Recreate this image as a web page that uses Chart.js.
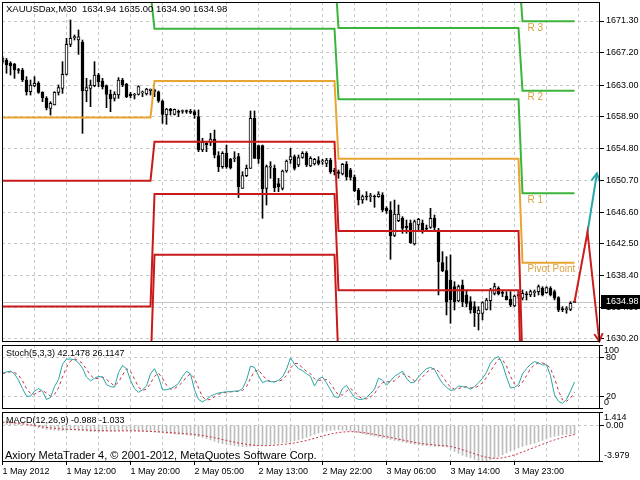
<!DOCTYPE html>
<html><head><meta charset="utf-8">
<script src="https://cdn.jsdelivr.net/npm/chart.js@4.4.1/dist/chart.umd.min.js"></script>
<style>
html,body{margin:0;padding:0;background:#fff;width:640px;height:480px;overflow:hidden}
.c{position:absolute;left:0;width:640px}
#w1{top:0;height:343px}
#w2{top:344px;height:67px}
#w3{top:411px;height:69px}
</style></head><body>
<div class="c" id="w1"><canvas id="main"></canvas></div>
<div class="c" id="w2"><canvas id="stoch"></canvas></div>
<div class="c" id="w3"><canvas id="macd"></canvas></div>
<script>
// ---------------- DATA ----------------
const chartTitle = 'XAUUSDax,M30  1634.94 1635.00 1634.90 1634.98';
const stochTitle = 'Stoch(5,3,3) 42.1478 26.1147';
const macdTitle = 'MACD(12,26,9) -0.988 -1.033';
const copyright = 'Axiory MetaTrader 4, \u00A9 2001-2012, MetaQuotes Software Corp.';

const opens = [
1666.0,1666.26,1665.83,1665.70,1664.97,1664.97,1663.67,1662.16,1662.90,1663.24,
1662.08,1661.30,1660.01,1660.44,1662.08,1662.60,1664.41,1668.28,1669.1,1668.84,
1668.54,1662.25,1662.60,1662.94,1664.32,1663.55,1662.94,1661.82,1661.30,1661.73,
1663.67,1663.11,1661.86,1661.7,1661.82,1662.0,1661.86,1662.3,1662.4,1662.16,
1660.96,1659.15,1659.9,1659.24,1659.6,1659.6,1659.65,1659.6,1659.6,1658.94,
1654.63,1655.5,1655.62,1656.05,1653.90,1652.47,1654.20,1653.46,1653.5,1653.77,
1649.67,1651.31,1652.26,1658.72,1655.19,1655.19,1649.67,1652.4,1652.26,1650.3,
1649.67,1651.91,1653.34,1653.77,1652.69,1653.68,1654.20,1652.56,1652.82,1653.25,
1653.1,1652.90,1653.33,1652.0,1651.8,1651.52,1652.77,1652.04,1651.09,1649.46,
1648.16,1648.6,1648.6,1648.65,1648.59,1648.81,1647.09,1646.87,1643.60,1645.49,
1645.80,1644.8,1645.15,1642.48,1644.93,1645.15,1644.5,1644.63,1645.80,1644.29,
1640.07,1639.03,1637.82,1636.96,1635.11,1637.18,1635.89,1635.03,1634.38,1633.43,
1633.52,1634.03,1635.15,1636.10,1636.75,1636.2,1635.76,1635.33,1634.46,1635.8,
1635.46,1636.0,1635.89,1636.2,1636.32,1636.75,1636.19,1636.75,1636.32,1635.54,
1634.1,1634.0,1634.03,1634.94];
const highs = [
1666.7,1666.47,1666.04,1665.83,1665.18,1665.18,1664.11,1663.67,1664.11,1663.46,
1662.16,1661.52,1660.87,1662.16,1663.03,1666.04,1669.06,1671.43,1669.49,1670.14,
1668.84,1663.89,1663.67,1666.04,1664.54,1663.89,1663.03,1662.38,1662.16,1663.98,
1663.89,1663.24,1662.08,1661.95,1662.94,1662.25,1662.60,1662.51,1662.5,1662.25,
1661.09,1660.01,1660.01,1659.93,1659.8,1659.8,1659.8,1659.88,1659.8,1659.8,
1656.14,1655.70,1656.78,1657.21,1654.41,1654.41,1655.27,1653.55,1654.41,1654.20,
1651.83,1652.69,1659.67,1659.67,1655.27,1655.27,1652.69,1653.12,1652.69,1650.97,
1652.04,1653.34,1654.84,1653.98,1653.98,1654.41,1654.41,1653.76,1653.55,1653.76,
1653.42,1653.55,1653.55,1652.26,1652.04,1652.90,1653.12,1652.26,1651.40,1649.67,
1648.81,1649.24,1649.03,1648.81,1649.24,1649.11,1647.30,1647.95,1648.16,1647.52,
1646.01,1645.58,1645.58,1645.58,1645.80,1645.58,1644.93,1647.09,1646.22,1644.50,
1641.49,1640.84,1641.06,1637.61,1637.18,1637.82,1636.53,1635.67,1635.03,1634.38,
1635.03,1635.46,1636.75,1637.40,1636.96,1636.53,1636.32,1636.32,1635.89,1636.3,
1636.53,1636.32,1636.53,1636.53,1637.18,1636.96,1636.96,1636.96,1636.53,1635.67,
1634.38,1634.38,1635.03,1635.00];
const lows = [
1665.8,1664.54,1664.32,1663.89,1664.54,1663.46,1661.73,1661.73,1662.81,1661.95,
1660.87,1659.80,1659.15,1660.44,1661.73,1661.95,1664.32,1667.98,1668.84,1666.99,
1656.78,1660.87,1660.23,1662.8,1662.81,1662.51,1660.10,1659.58,1660.96,1661.30,
1662.81,1661.39,1661.39,1661.22,1661.73,1661.52,1661.73,1661.73,1661.52,1660.79,
1658.07,1657.94,1659.15,1659.15,1658.94,1659.37,1659.37,1659.32,1658.72,1654.41,
1654.41,1654.41,1655.19,1653.6,1651.83,1652.26,1652.26,1652.17,1653.12,1648.47,
1649.67,1651.18,1652.26,1653.55,1652.90,1645.80,1647.52,1650.97,1649.24,1649.24,
1649.46,1651.74,1652.9,1652.04,1652.47,1653.55,1652.47,1652.47,1652.69,1652.69,
1652.77,1652.47,1651.61,1651.40,1650.97,1651.40,1650.75,1650.75,1649.24,1647.52,
1647.73,1648.16,1647.95,1647.22,1648.51,1646.66,1646.44,1640.50,1643.43,1645.36,
1643.86,1643.86,1642.56,1642.35,1644.07,1643.86,1644.07,1644.50,1644.29,1635.89,
1638.90,1633.30,1632.23,1633.95,1635.03,1634.38,1634.38,1633.52,1631.80,1631.36,
1632.66,1633.95,1633.95,1635.89,1635.89,1635.67,1635.24,1634.38,1634.38,1635.5,
1635.24,1635.24,1635.67,1635.67,1635.89,1635.76,1636.10,1635.76,1635.24,1633.73,
1633.73,1633.52,1633.86,1634.90];
const closes = [
1666.5,1665.61,1665.53,1664.97,1664.9,1663.67,1662.16,1663.03,1663.24,1662.08,
1661.39,1660.10,1660.66,1662.08,1662.68,1664.41,1668.28,1669.06,1669.3,1669.27,
1662.25,1662.68,1663.03,1664.32,1663.46,1662.81,1661.82,1661.22,1661.86,1663.67,
1663.03,1661.52,1661.65,1661.8,1662.81,1662.1,1662.51,1662.5,1662.2,1660.96,
1659.24,1659.93,1659.7,1659.88,1659.5,1659.65,1659.6,1659.5,1659.2,1654.63,
1655.62,1655.3,1656.05,1653.98,1652.47,1654.20,1652.47,1652.34,1653.6,1649.89,
1651.31,1652.26,1658.72,1653.55,1653.46,1649.59,1652.47,1652.5,1649.76,1649.9,
1651.91,1653.21,1653.77,1652.26,1653.64,1654.20,1652.69,1653.55,1653.42,1652.9,
1653.2,1653.33,1651.83,1651.8,1651.6,1652.77,1651.18,1651.09,1649.37,1648.16,
1648.59,1648.55,1648.7,1648.55,1648.94,1646.87,1646.79,1643.51,1646.36,1646.36,
1644.50,1644.6,1642.65,1645.36,1645.67,1644.29,1644.4,1645.80,1644.63,1640.20,
1639.03,1635.03,1635.24,1635.03,1636.96,1635.03,1634.81,1633.95,1633.60,1633.95,
1634.90,1635.24,1636.53,1636.96,1636.02,1636.1,1635.24,1634.59,1635.76,1636.0,
1636.10,1635.9,1636.32,1636.25,1636.96,1635.89,1636.84,1635.89,1635.46,1633.95,
1634.0,1634.05,1634.81,1634.98];

// daily pivot levels (one value per day), day start bar indices
const dayStarts = [0, 38, 84, 130];
const levelR3 = [1699.4, 1684.9, 1678.2, 1671.27];
const levelR2 = [1683.2, 1678.15, 1670.4, 1662.3];
const levelR1 = [1675.05, 1670.3, 1661.18, 1649.03];
const levelP  = [1658.83, 1663.55, 1653.5, 1640.06];
const levelS1 = [1650.66, 1655.7, 1644.16, 1626.8];
const levelS2 = [1634.4, 1648.95, 1636.5, 1617.8];
const levelS3 = [1626.27, 1641.1, 1627.1, 1604.6];
const levelNames = ['R 3', 'R 2', 'R 1', 'Pivot Point'];

// projected path on the right
const projDown = [{x:143, y:1634.98}, {x:146.25, y:1644.0}, {x:149.2, y:1629.9}];
const projUp = [{x:146.1, y:1643.5}, {x:148.6, y:1651.6}];

const priceTicks = [1671.30, 1667.20, 1663.00, 1658.90, 1654.80, 1650.70, 1646.60, 1642.50, 1638.40, 1634.30, 1630.20];
const timeLabels = ['1 May 2012', '1 May 12:00', '1 May 20:00', '2 May 05:00', '2 May 13:00', '2 May 22:00', '3 May 06:00', '3 May 14:00', '3 May 23:00'];

const stochK = [
56,58,59,55,45,32,20,20,28,32,
28,15,18,35,46,70,78,78,77,72,
64,50,44,48,51,50,38,35,34,57,
68,63,45,32,26,30,36,55,63,50,
30,30,32,35,40,51,59,55,30,15,
11,15,20,23,25,26,27,27,28,28,
32,45,67,65,52,41,44,43,42,45,
50,62,80,70,63,60,55,51,36,47,
50,41,30,19,18,32,37,27,18,15,
15,18,24,31,48,45,37,44,51,55,
59,48,41,42,50,57,63,65,62,50,
40,34,29,30,36,35,34,31,35,41,
48,57,72,79,82,70,50,33,34,38,
55,63,70,74,72,69,69,52,22,12,
9,15,28,42.1478];
const stochD = [
55,57,58,57,53,44,32,24,23,27,
29,25,20,23,33,50,65,75,78,76,
71,62,53,47,48,50,46,41,36,42,
53,63,59,47,34,29,31,40,51,56,
48,37,31,32,36,42,50,55,48,33,
19,14,15,19,23,25,26,27,27,28,
29,35,48,59,61,53,46,43,43,43,
46,52,64,71,71,64,59,55,47,45,
45,46,40,30,22,22,28,32,27,20,
16,16,19,24,34,41,43,42,44,50,
55,53,49,44,44,50,57,62,63,59,
51,42,34,31,32,34,35,33,33,36,
41,49,59,69,78,77,67,51,39,35,
42,52,63,69,72,72,70,63,48,29,
14,12,17,26.1147];
const stochLevels = [80, 20];
const stochEdge = ['100', '0'];

const macdMain = [
0.5,0.45,0.4,0.3,0.2,0.1,0,-0.1,-0.2,-0.3,
-0.38,-0.45,-0.5,-0.55,-0.6,-0.6,-0.55,-0.5,-0.5,-0.55,
-0.6,-0.65,-0.7,-0.7,-0.7,-0.68,-0.66,-0.65,-0.63,-0.6,
-0.58,-0.58,-0.6,-0.62,-0.65,-0.68,-0.7,-0.72,-0.75,-0.8,
-0.85,-0.9,-0.92,-0.95,-1.0,-1.02,-1.05,-1.1,-1.15,-1.25,
-1.35,-1.45,-1.6,-1.75,-1.9,-2.0,-2.1,-2.15,-2.2,-2.28,
-2.32,-2.35,-2.3,-2.25,-2.2,-2.15,-2.12,-2.08,-2.02,-1.97,
-1.93,-1.88,-1.8,-1.7,-1.6,-1.45,-1.3,-1.15,-1.0,-0.85,
-0.7,-0.65,-0.58,-0.53,-0.52,-0.55,-0.58,-0.6,-0.7,-0.8,
-0.92,-1.02,-1.1,-1.2,-1.3,-1.38,-1.45,-1.55,-1.65,-1.72,
-1.8,-1.9,-2.0,-2.08,-2.15,-2.2,-2.22,-2.25,-2.28,-2.3,
-2.32,-2.35,-2.6,-2.85,-3.05,-3.25,-3.4,-3.55,-3.7,-3.85,
-3.979,-3.9,-3.75,-3.55,-3.4,-3.2,-3.0,-2.8,-2.6,-2.45,
-2.3,-2.15,-2.05,-1.95,-1.8,-1.65,-1.5,-1.3,-1.2,-1.12,
-1.05,-1.0,-0.98,-0.988];
const macdSignal = [
0.3,0.3,0.28,0.25,0.2,0.15,0.1,0.04,-0.03,-0.1,
-0.18,-0.25,-0.3,-0.34,-0.38,-0.42,-0.45,-0.47,-0.49,-0.5,
-0.52,-0.53,-0.55,-0.57,-0.59,-0.6,-0.61,-0.62,-0.63,-0.63,
-0.63,-0.62,-0.62,-0.62,-0.63,-0.64,-0.66,-0.68,-0.7,-0.72,
-0.75,-0.78,-0.81,-0.84,-0.87,-0.9,-0.94,-0.97,-1.01,-1.06,
-1.12,-1.19,-1.27,-1.36,-1.45,-1.55,-1.65,-1.75,-1.85,-1.93,
-2.0,-2.07,-2.13,-2.18,-2.21,-2.22,-2.22,-2.2,-2.17,-2.13,
-2.09,-2.04,-1.98,-1.92,-1.84,-1.76,-1.66,-1.55,-1.43,-1.3,
-1.18,-1.07,-0.96,-0.87,-0.8,-0.75,-0.72,-0.7,-0.72,-0.75,
-0.8,-0.86,-0.93,-1.0,-1.08,-1.16,-1.25,-1.34,-1.43,-1.52,
-1.6,-1.69,-1.78,-1.86,-1.93,-2.0,-2.05,-2.1,-2.15,-2.18,
-2.21,-2.24,-2.3,-2.4,-2.52,-2.65,-2.8,-2.95,-3.1,-3.24,
-3.37,-3.47,-3.55,-3.58,-3.57,-3.52,-3.44,-3.33,-3.2,-3.06,
-2.9,-2.74,-2.57,-2.4,-2.23,-2.06,-1.9,-1.74,-1.6,-1.46,
-1.34,-1.22,-1.12,-1.033];
const macdRange = [-3.979, 1.414];
const macdEdge = ['1.414', '-3.979'];

// ---------------- BUILD ----------------
Chart.defaults.font.family = "'Liberation Sans', Arial, sans-serif";
Chart.defaults.font.size = 9;
Chart.defaults.color = '#000';

const N = closes.length;
const idx = Array.from({length: N}, (_, i) => i);
const gridStep = 8, labelStep = 16;
const gridBars = Array.from({length: Math.floor(N / gridStep) + 1}, (_, k) => k * gridStep);
const X_MIN = -0.125, X_MAX = 149.375;
const GRID = '#c8c8c8';
const C_R = '#3cb43c', C_P = '#e8a533', C_S = '#c81a1a';

function dayOf(i) { let d = 0; dayStarts.forEach((s, k) => { if (i >= s) d = k; }); return d; }
function levelSeries(levels) { return idx.map(i => ({x: i, y: levels[dayOf(i)]})); }
function noPad(s) { s.paddingTop = 0; s.paddingBottom = 0; s.paddingLeft = 0; s.paddingRight = 0; }

function isLabelTick(v) { return v % labelStep === 0 && v / labelStep < timeLabels.length; }
function xScale(showLabels) {
  return {
    type: 'linear', min: X_MIN, max: X_MAX, offset: false,
    afterBuildTicks: s => { s.ticks = gridBars.map(v => ({value: v})); },
    afterFit: s => { s.height = showLabels ? 18 : 0; noPad(s); },
    grid: { color: GRID, lineWidth: 1, offset: false, drawTicks: showLabels, tickLength: 3,
            tickColor: c => (showLabels && c.tick && isLabelTick(c.tick.value)) ? '#000' : 'rgba(0,0,0,0)' },
    border: { display: false, dash: [3, 3] },
    ticks: { display: showLabels, autoSkip: false, maxRotation: 0, minRotation: 0, align: 'start', padding: 1,
             callback: v => isLabelTick(v) ? timeLabels[v / labelStep] : '' }
  };
}
function yScale(min, max, tickVals, fmt) {
  return { type: 'linear', position: 'right', min: min, max: max,
           afterBuildTicks: s => { s.ticks = tickVals.map(v => ({value: v})); },
           afterFit: s => { s.width = 40; noPad(s); },
           grid: { color: GRID, tickLength: 4, tickColor: '#000' },
           border: { display: false, dash: [3, 3] },
           ticks: { padding: 2, callback: fmt } };
}

const decor = {
  id: 'decor',
  beforeDatasetsDraw(chart, args, o) {
    const {ctx, chartArea: a, scales} = chart;
    if (o.bid != null) {
      const y = Math.round(scales.y.getPixelForValue(o.bid)) + 0.5;
      ctx.save(); ctx.strokeStyle = '#c4c4c4'; ctx.lineWidth = 1;
      ctx.beginPath(); ctx.moveTo(a.left, y); ctx.lineTo(a.right, y); ctx.stroke(); ctx.restore();
    }
  },
  afterDatasetsDraw(chart, args, o) {
    const {ctx, chartArea: a, scales} = chart;
    ctx.save();
    (o.arrows || []).forEach(ar => {
      const pts = chart.getDatasetMeta(ar.dataset).data;
      const p1 = pts[pts.length - 2], p2 = pts[pts.length - 1];
      const ang = Math.atan2(p2.y - p1.y, p2.x - p1.x);
      const L = 8, sp = 0.5;
      ctx.strokeStyle = ar.color; ctx.lineWidth = 2; ctx.lineCap = 'round';
      ctx.beginPath();
      ctx.moveTo(p2.x - L * Math.cos(ang - sp), p2.y - L * Math.sin(ang - sp));
      ctx.lineTo(p2.x, p2.y);
      ctx.lineTo(p2.x - L * Math.cos(ang + sp), p2.y - L * Math.sin(ang + sp));
      ctx.stroke();
    });
    if (o.levelLabels) {
      ctx.font = "10px 'Liberation Sans', Arial, sans-serif";
      ctx.fillStyle = '#d9a040'; ctx.textBaseline = 'top'; ctx.textAlign = 'left';
      const d = dayStarts.length - 1;
      const x = scales.x.getPixelForValue(dayStarts[d]) + 5;
      [levelR3, levelR2, levelR1, levelP].forEach((lv, k) => {
        ctx.fillText(levelNames[k], x, scales.y.getPixelForValue(lv[d]) + 2);
      });
    }
    (o.texts || []).forEach(t => {
      ctx.font = t.font; ctx.fillStyle = '#000'; ctx.textAlign = 'left'; ctx.textBaseline = t.base;
      ctx.fillText(t.text, a.left + t.dx, t.base === 'top' ? a.top + t.dy : a.bottom - t.dy);
    });
    ctx.strokeStyle = '#000'; ctx.lineWidth = 1;
    ctx.strokeRect(a.left + 0.5, a.top + 0.5, a.right - a.left - 1, a.bottom - a.top - 1);
    ctx.restore();
  },
  afterDraw(chart, args, o) {
    const {ctx, chartArea: a, scales} = chart;
    ctx.save();
    ctx.font = "9px 'Liberation Sans', Arial, sans-serif";
    ctx.textAlign = 'left'; ctx.textBaseline = 'middle'; ctx.fillStyle = '#000';
    if (o.edge) {
      ctx.fillText(o.edge[0], a.right + 4, a.top + 6);
      ctx.fillText(o.edge[1], a.right + 4, a.bottom - 6);
      ctx.beginPath(); ctx.moveTo(a.right, a.top + 0.5); ctx.lineTo(a.right + 3, a.top + 0.5);
      ctx.moveTo(a.right, a.bottom - 0.5); ctx.lineTo(a.right + 3, a.bottom - 0.5); ctx.stroke();
    }
    if (o.bid != null) {
      const y = Math.round(scales.y.getPixelForValue(o.bid));
      ctx.fillStyle = '#000'; ctx.fillRect(a.right + 1, y - 7, 39, 14);
      ctx.fillStyle = '#fff'; ctx.fillText(o.bid.toFixed(2), a.right + 6, y);
    }
    ctx.restore();
  }
};

const common = { responsive: true, maintainAspectRatio: false, animation: false, events: [] };

// main chart
new Chart(document.getElementById('main'), {
  type: 'bar',
  data: { datasets: [
    { type: 'line', data: projDown, borderColor: '#cc1f1f', borderWidth: 2, pointRadius: 0, clip: false },
    { type: 'line', data: projUp, borderColor: '#2aa6a6', borderWidth: 2, pointRadius: 0, clip: false },
    { type: 'line', data: levelSeries(levelR3), borderColor: C_R, borderWidth: 2, pointRadius: 0 },
    { type: 'line', data: levelSeries(levelR2), borderColor: C_R, borderWidth: 2, pointRadius: 0 },
    { type: 'line', data: levelSeries(levelR1), borderColor: C_R, borderWidth: 2, pointRadius: 0 },
    { type: 'line', data: levelSeries(levelP), borderColor: C_P, borderWidth: 2, pointRadius: 0 },
    { type: 'line', data: levelSeries(levelS1), borderColor: C_S, borderWidth: 2, pointRadius: 0 },
    { type: 'line', data: levelSeries(levelS2), borderColor: C_S, borderWidth: 2, pointRadius: 0 },
    { type: 'line', data: levelSeries(levelS3), borderColor: C_S, borderWidth: 2, pointRadius: 0 },
    { data: idx.map(i => ({x: i, y: [opens[i], closes[i]]})), grouped: false, barThickness: 3, minBarLength: 1,
      backgroundColor: idx.map(i => closes[i] >= opens[i] ? '#ffffff' : '#000000'),
      borderColor: '#000', borderWidth: 1, borderSkipped: false },
    { data: idx.map(i => ({x: i, y: [lows[i], highs[i]]})), grouped: false, barThickness: 1,
      backgroundColor: '#000', borderWidth: 0 }
  ]},
  options: { ...common,
    layout: { padding: { left: 2, right: 0, top: 2, bottom: 1 } },
    scales: {
      x: xScale(false),
      y: yScale(1629.81, 1673.756, priceTicks, v => Number(v).toFixed(2))
    },
    plugins: { legend: { display: false }, tooltip: { enabled: false },
      decor: { bid: closes[N - 1], levelLabels: true,
               arrows: [{dataset: 0, color: '#cc1f1f'}, {dataset: 1, color: '#2aa6a6'}],
               texts: [{text: chartTitle, dx: 4, dy: 3, base: 'top', font: "9.5px 'Liberation Sans', Arial, sans-serif"}] } }
  },
  plugins: [decor]
});

// stochastic
new Chart(document.getElementById('stoch'), {
  type: 'line',
  data: { datasets: [
    { data: idx.map(i => ({x: i, y: stochK[i]})), borderColor: '#2aa6a6', borderWidth: 1, pointRadius: 0 },
    { data: idx.map(i => ({x: i, y: stochD[i]})), borderColor: '#c83040', borderWidth: 1, pointRadius: 0, borderDash: [3, 3] }
  ]},
  options: { ...common,
    layout: { padding: { left: 2, right: 0, top: 1, bottom: 2 } },
    scales: {
      x: xScale(false),
      y: yScale(0, 100, stochLevels, v => String(v))
    },
    plugins: { legend: { display: false }, tooltip: { enabled: false },
      decor: { edge: stochEdge,
               texts: [{text: stochTitle, dx: 4, dy: 4, base: 'top', font: "9px 'Liberation Sans', Arial, sans-serif"}] } }
  },
  plugins: [decor]
});

// MACD
new Chart(document.getElementById('macd'), {
  type: 'bar',
  data: { datasets: [
    { type: 'line', data: idx.map(i => ({x: i, y: macdSignal[i]})), borderColor: '#c83040', borderWidth: 1, pointRadius: 0, borderDash: [2, 2] },
    { data: idx.map(i => ({x: i, y: macdMain[i]})), grouped: false, barThickness: 1, backgroundColor: '#bcbcbc', borderWidth: 0 }
  ]},
  options: { ...common,
    layout: { padding: { left: 2, right: 0, top: 1, bottom: 0 } },
    scales: {
      x: xScale(true),
      y: yScale(macdRange[0], macdRange[1], [0], v => Number(v).toFixed(2))
    },
    plugins: { legend: { display: false }, tooltip: { enabled: false },
      decor: { edge: macdEdge,
               texts: [{text: macdTitle, dx: 4, dy: 4, base: 'top', font: "9px 'Liberation Sans', Arial, sans-serif"},
                       {text: copyright, dx: 3, dy: 3, base: 'alphabetic', font: "11px 'Liberation Sans', Arial, sans-serif"}] } }
  },
  plugins: [decor]
});
</script>
</body></html>
